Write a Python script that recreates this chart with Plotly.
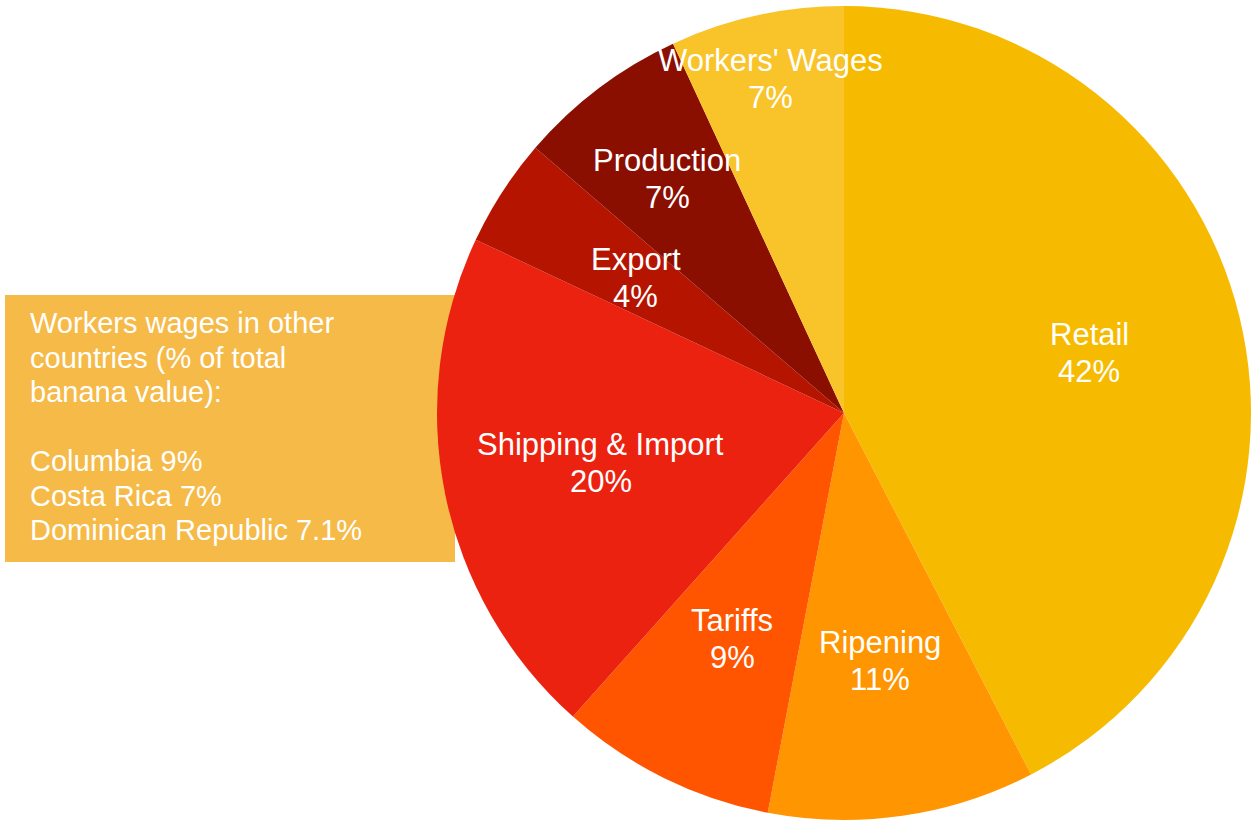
import math
import plotly.graph_objects as go

# ---- data ----
labels = ["Retail", "Ripening", "Tariffs", "Shipping & Import", "Export", "Production", "Workers' Wages"]
values = [42.4, 10.6, 8.6, 20.4, 4.3, 6.8, 6.9]
colors = ["#F6BB00", "#FF9500", "#FF5500", "#EC2210", "#B51500", "#8B0F00", "#F9C32A"]
label_radius = [0.62, 0.615, 0.62, 0.61, 0.61, 0.72, 0.84]  # label distance as fraction of radius

note_lines = ["Workers wages in other", "countries (% of total", "banana value):", "",
              "Columbia 9%", "Costa Rica 7%", "Dominican Republic 7.1%"]

W, H = 1251, 822
FONT = "Liberation Sans, Arial, Helvetica, sans-serif"

# pie geometry (pixels)
dom_x0 = 437
dom_top = 4
R = min(W - dom_x0, H - dom_top) / 2
cx = dom_x0 + R
cy = dom_top + (H - dom_top) / 2

fig = go.Figure()
fig.add_trace(go.Pie(
    labels=labels, values=values, sort=False, direction="clockwise", rotation=0,
    marker=dict(colors=colors, line=dict(width=0)),
    textinfo="none", hoverinfo="label+percent", showlegend=False,
    domain=dict(x=[dom_x0 / W, 1], y=[0, 1 - dom_top / H]),
))

total = sum(values)
cum = 0
annotations = []
LINE = 37
for lab, v, f in zip(labels, values, label_radius):
    mid = (cum + v / 2) / total * 2 * math.pi
    cum += v
    px = cx + f * R * math.sin(mid)
    py = cy - f * R * math.cos(mid)
    for txt, off in ((lab, -LINE / 2), (f"{round(v / total * 100)}%", LINE / 2)):
        annotations.append(dict(
            x=px / W, y=1 - (py + off) / H, xref="paper", yref="paper",
            text=txt, showarrow=False,
            font=dict(family=FONT, size=31, color="white"), align="center",
            xanchor="center", yanchor="middle",
        ))

NOTE_LINE = 34.5
for i, line in enumerate(note_lines):
    if not line:
        continue
    annotations.append(dict(
        x=30 / W, y=1 - (323 + i * NOTE_LINE) / H, xref="paper", yref="paper",
        text=line, showarrow=False, align="left",
        xanchor="left", yanchor="middle", xshift=-2,
        font=dict(family=FONT, size=29, color="white"),
    ))

fig.update_layout(
    width=W, height=H, margin=dict(l=0, r=0, t=0, b=0),
    paper_bgcolor="white", plot_bgcolor="white",
    annotations=annotations,
    shapes=[dict(type="rect", xref="paper", yref="paper",
                 x0=5 / W, x1=455 / W, y0=1 - 562 / H, y1=1 - 295 / H,
                 fillcolor="#F5BA48", line=dict(width=0), layer="below")],
)

fig.write_html("out.html")
